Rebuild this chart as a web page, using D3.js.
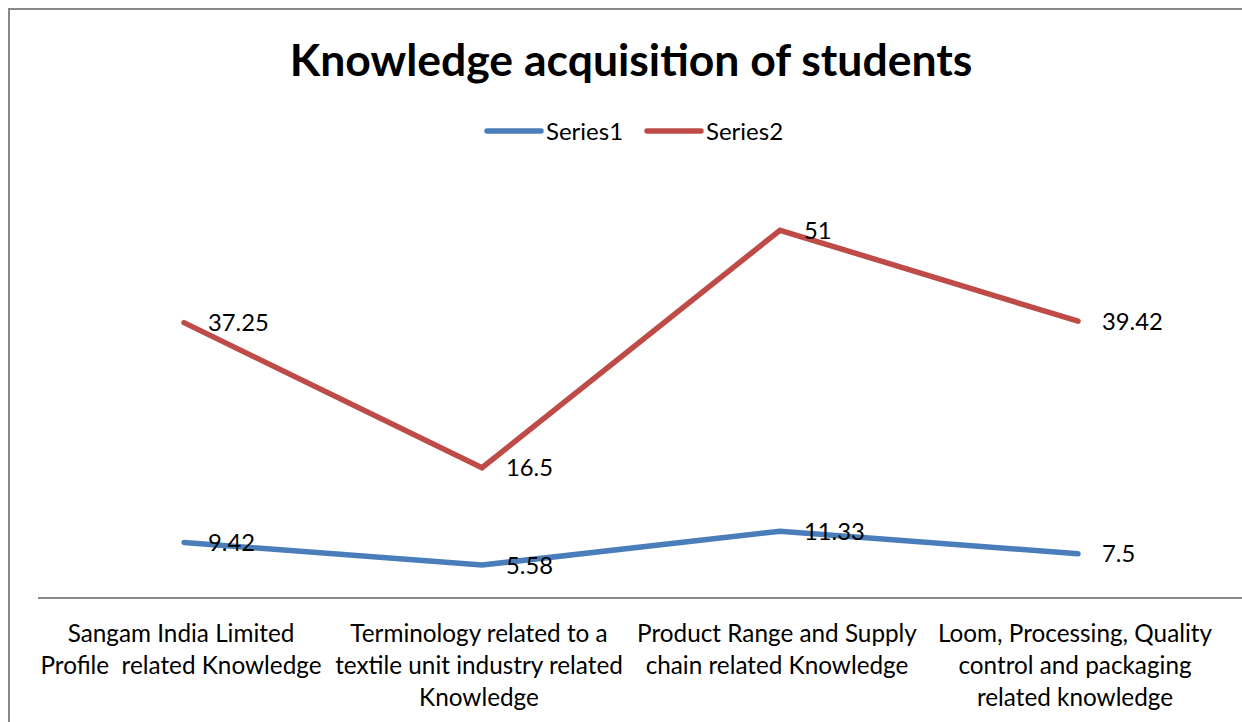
<!DOCTYPE html>
<html><head><meta charset="utf-8">
<script src="https://cdn.jsdelivr.net/npm/d3@7"></script>
<style>html,body{margin:0;padding:0;background:#fff;overflow:hidden} text{white-space:pre}</style>
</head><body>
<script>
const categories = [
  ["Sangam India Limited", "Profile  related Knowledge"],
  ["Terminology related to a", "textile unit industry related", "Knowledge"],
  ["Product Range and Supply", "chain related Knowledge"],
  ["Loom, Processing, Quality", "control and packaging", "related knowledge"]
];
const seriesNames = ["Series1", "Series2"];
const series1 = [9.42, 5.58, 11.33, 7.5];
const series2 = [37.25, 16.5, 51, 39.42];
const colors = ["#4A7EBB", "#BE4B48"];

const W = 1242, H = 722;
const FONT = "Lato, 'Open Sans', sans-serif";
const svg = d3.select("body").append("svg").attr("width", W).attr("height", H);

// chart border
svg.append("rect").attr("x", 9).attr("y", 9).attr("width", W + 20).attr("height", H + 20)
  .attr("fill", "#fff").attr("stroke", "#878787").attr("stroke-width", 2);

const x = d3.scaleBand().domain(d3.range(categories.length)).range([35, 1227]);
const y = d3.scaleLinear().domain([0, 70]).range([598, 185]);

// stacked line: series2 plotted on top of series1
const stacked = [series1, series2.map((v, i) => v + series1[i])];
const raw = [series1, series2];

// category axis
const axis = d3.axisBottom(x).tickSize(0).tickFormat("");
const ag = svg.append("g").attr("transform", `translate(0,${y(0)})`).call(axis);
ag.select(".domain").attr("stroke", "#8a8a8a").attr("stroke-width", 2).attr("d", `M38,0H${W}`);

categories.forEach((lines, i) => {
  const t = svg.append("text").attr("text-anchor", "middle")
    .attr("font-family", FONT).attr("font-size", 24.3).attr("fill", "#000");
  lines.forEach((l, j) => {
    t.append("tspan").attr("x", x(i) + x.bandwidth() / 2 - 3).attr("y", 642 + j * 32).text(l);
  });
});

const line = d3.line().x((d, i) => x(i) + x.bandwidth() / 2).y(d => y(d));
stacked.forEach((s, k) => {
  svg.append("path").datum(s).attr("d", line).attr("fill", "none")
    .attr("stroke", colors[k]).attr("stroke-width", 5.5)
    .attr("stroke-linecap", "round").attr("stroke-linejoin", "miter");
});

stacked.forEach((s, k) => {
  s.forEach((v, i) => {
    svg.append("text").attr("x", x(i) + x.bandwidth() / 2 + 24).attr("y", y(v))
      .attr("dy", "0.36em").attr("font-family", FONT).attr("font-size", 23.8)
      .attr("fill", "#000").text(raw[k][i]);
  });
});

// title
svg.append("text").attr("x", 631).attr("y", 76).attr("text-anchor", "middle")
  .attr("font-family", FONT).attr("font-weight", "bold").attr("font-size", 44.5)
  .attr("fill", "#000").text("Knowledge acquisition of students");

// legend
const legX = [487, 647];
seriesNames.forEach((n, k) => {
  svg.append("line").attr("x1", legX[k]).attr("x2", legX[k] + 54).attr("y1", 131).attr("y2", 131)
    .attr("stroke", colors[k]).attr("stroke-width", 5.5).attr("stroke-linecap", "round");
  svg.append("text").attr("x", legX[k] + 59).attr("y", 131).attr("dy", "0.36em")
    .attr("font-family", FONT).attr("font-size", 24).attr("fill", "#000").text(n);
});
</script>
</body></html>
